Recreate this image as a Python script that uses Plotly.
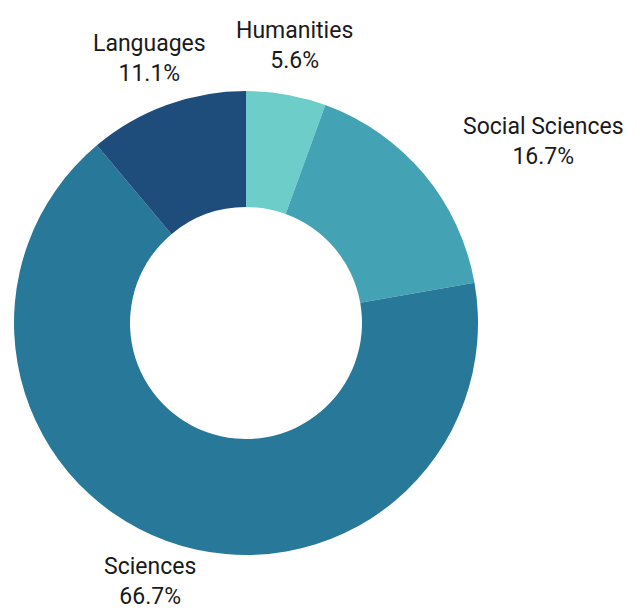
import math
import plotly.graph_objects as go

labels = ["Humanities", "Social Sciences", "Sciences", "Languages"]
values = [1, 3, 12, 2]
colors = ["#6DCDC9", "#43A3B5", "#277899", "#1E4D7B"]

W, H = 637, 612
cx, cy, r = 238, 315, 232
fig = go.Figure(go.Pie(
    labels=labels,
    values=values,
    hole=0.5,
    sort=False,
    direction="clockwise",
    rotation=0,
    marker=dict(colors=colors, line=dict(width=0)),
    textinfo="none",
    hoverinfo="label+percent",
    domain=dict(x=[(cx - r) / W, (cx + r) / W], y=[(H - cy - r) / H, (H - cy + r) / H]),
    showlegend=False,
))

# outside labels placed along each slice's mid-angle
total = sum(values)
label_r = r * 1.215
y_max = H - 39  # keep two-line labels inside the visible page
cum = 0
for lab, v in zip(labels, values):
    mid = (cum + v / 2) / total * 2 * math.pi
    cum += v
    s, c = math.sin(mid), math.cos(mid)
    x = cx + label_r * s
    y = min(cy - label_r * c, y_max)
    if abs(s) < 0.5:
        xa = "center"
    else:
        xa = "left" if s > 0 else "right"
    fig.add_annotation(
        x=x / W, y=1 - y / H, xref="paper", yref="paper",
        text=f"{lab}<br>{v / total * 100:.1f}%",
        showarrow=False, xanchor=xa, yanchor="middle", align="center",
        borderpad=0,
        font=dict(family="Roboto", size=23, color="#1a1a1a"),
    )

fig.update_layout(
    width=W, height=H,
    margin=dict(l=0, r=0, t=0, b=0),
    paper_bgcolor="white",
    plot_bgcolor="white",
    font=dict(family="Roboto"),
)
fig.write_html("out.html")
